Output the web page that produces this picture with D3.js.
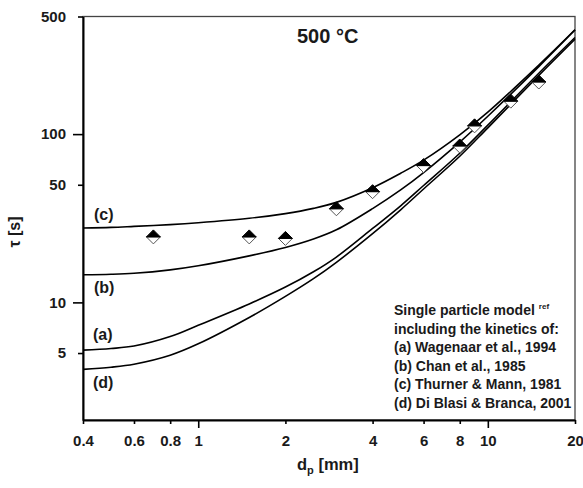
<!DOCTYPE html>
<meta charset="utf-8">
<style>

body { margin: 0; background: #fff; }

text {
  font-family: Arial, "Liberation Sans", sans-serif;
  font-weight: bold;
  fill: #1a1a1a;
}

.curves path {
  fill: none;
  stroke: #000;
  stroke-width: 1.6px;
}

</style>
<svg width="583" height="488"></svg>
<script src="https://cdn.jsdelivr.net/npm/d3@7/dist/d3.min.js"></script>
<script>

// model curves, particle diameter in mm vs conversion time in s
var dp   = [0.4, 0.5, 0.6, 0.8, 1, 1.5, 2, 2.5, 3, 4, 5, 6, 8, 10, 15, 20];
var tauA = [5.2, 5.32, 5.5, 6.26, 7.31, 9.79, 12.33, 15.2, 18.6, 27.5, 37.5, 49.5, 77, 113, 230, 375];
var tauB = [14.6, 14.7, 14.9, 15.6, 16.5, 18.9, 21.2, 23.8, 27.0, 36.1, 46.6, 59.1, 89.7, 127.7, 252, 417];
var tauC = [27.7, 27.9, 28.3, 29.0, 29.75, 31.6, 33.7, 36.2, 39.3, 48, 58.5, 70, 99, 135, 257, 416];
var tauD = [4.0, 4.12, 4.29, 4.85, 5.67, 8.13, 10.85, 13.83, 17.3, 25.6, 35.5, 47.2, 73.9, 109, 223, 366];

// measurements
var expDp  = [0.7, 1.5, 2, 3, 4, 6, 8, 9, 12, 15];
var expTau = [24.5, 24.5, 24, 36, 45.5, 65, 85, 112, 157, 204];

var xTicks = [0.4, 0.6, 0.8, 1, 2, 4, 6, 8, 10, 20];
var yTicks = [5, 10, 50, 100, 500];

var curveLabels = ["(c)", "(b)", "(a)", "(d)"];
var legendLines = ["including the kinetics of:", "(a) Wagenaar et al., 1994",
  "(b) Chan et al., 1985", "(c) Thurner & Mann, 1981", "(d) Di Blasi & Branca, 2001"];

var svg = d3.select("svg"),
    W = +svg.attr("width"),
    H = +svg.attr("height"),
    margin = {top: 16.5, right: 8, bottom: 68, left: 83};

var x = d3.scaleLog().domain([0.4, 20]).range([margin.left, W - margin.right]);
var y = d3.scaleLog().domain([2, 500]).range([H - margin.bottom, margin.top]);

// frame
svg.append("rect")
    .attr("x", x(0.4)).attr("y", y(500))
    .attr("width", x(20) - x(0.4)).attr("height", y(2) - y(500))
    .attr("fill", "none").attr("stroke", "#444").attr("stroke-width", 1.3);

var xAxis = svg.append("g")
    .attr("transform", "translate(0," + y(2) + ")")
    .call(d3.axisBottom(x).tickValues(xTicks).tickFormat(function(d) { return d; }).tickSizeOuter(0));

xAxis.select(".domain").attr("stroke-width", 2);
xAxis.selectAll(".tick line")
    .attr("stroke-width", 1.6)
    .attr("y2", function(d) { return (d === 1 || d === 10) ? 8 : 4; });
xAxis.selectAll(".tick text")
    .attr("y", 15)
    .style("font-size", "15px")
    .style("font-family", "Arial, 'Liberation Sans', sans-serif")
    .attr("fill", "#1a1a1a");

var yAxis = svg.append("g")
    .attr("transform", "translate(" + x(0.4) + ",0)")
    .call(d3.axisLeft(y).tickValues(yTicks).tickFormat(function(d) { return d; }).tickSizeOuter(0));

yAxis.select(".domain").attr("stroke-width", 2);
yAxis.selectAll(".tick line")
    .attr("stroke-width", 1.6)
    .attr("x2", function(d) { return (d === 10 || d === 100) ? -10 : -5; });
yAxis.selectAll(".tick text")
    .attr("x", -17)
    .style("font-size", "15px")
    .style("font-family", "Arial, 'Liberation Sans', sans-serif")
    .attr("fill", "#1a1a1a");

// curves
var line = d3.line()
    .x(function(d) { return x(d[0]); })
    .y(function(d) { return y(d[1]); })
    .curve(d3.curveCatmullRom.alpha(0.5));

var series = [tauA, tauB, tauC, tauD];
svg.append("g")
    .attr("class", "curves")
  .selectAll("path")
  .data(series)
  .enter().append("path")
    .attr("d", function(s) { return line(dp.map(function(v, i) { return [v, s[i]]; })); });

// half filled diamonds
var r = 7;
var pts = svg.append("g")
  .selectAll("g")
  .data(expDp.map(function(v, i) { return [v, expTau[i]]; }))
  .enter().append("g")
    .attr("transform", function(d) { return "translate(" + x(d[0]) + "," + y(d[1]) + ")"; });

pts.append("path")
    .attr("d", "M" + (-r) + ",0L0," + r + "L" + r + ",0Z")
    .attr("fill", "#fff").attr("stroke", "#555").attr("stroke-width", 1);
pts.append("path")
    .attr("d", "M" + (-r) + ",0L0," + (-r) + "L" + r + ",0Z")
    .attr("fill", "#000").attr("stroke", "#000").attr("stroke-width", 1);

// curve labels
var labelPos = [[94, 220], [94, 293], [93, 340], [93, 388]];
svg.append("g")
  .selectAll("text")
  .data(curveLabels)
  .enter().append("text")
    .attr("x", function(d, i) { return labelPos[i][0]; })
    .attr("y", function(d, i) { return labelPos[i][1]; })
    .style("font-size", "16px")
    .text(function(d) { return d; });

// title
svg.append("text")
    .attr("x", 297).attr("y", 43)
    .style("font-size", "20px")
    .text("500 °C");

// legend
var leg = svg.append("text")
    .attr("x", 394).attr("y", 315)
    .style("font-size", "14px");
leg.append("tspan").text("Single particle model");
leg.append("tspan").attr("dx", 4).attr("dy", -6).style("font-size", "8px").text("ref");

svg.append("g")
  .selectAll("text")
  .data(legendLines)
  .enter().append("text")
    .attr("x", 394)
    .attr("y", function(d, i) { return 333.5 + i * 18.5; })
    .style("font-size", "14px")
    .text(function(d) { return d; });

// axis titles
var xl = svg.append("text")
    .attr("x", 297).attr("y", 470)
    .style("font-size", "16.5px");
xl.append("tspan").text("d");
xl.append("tspan").attr("dy", 4).style("font-size", "11px").text("p");
xl.append("tspan").attr("dy", -4).text(" [mm]");

svg.append("text")
    .attr("transform", "translate(20,232) rotate(-90)")
    .attr("text-anchor", "middle")
    .style("font-size", "16px")
    .text("τ [s]");

</script>
